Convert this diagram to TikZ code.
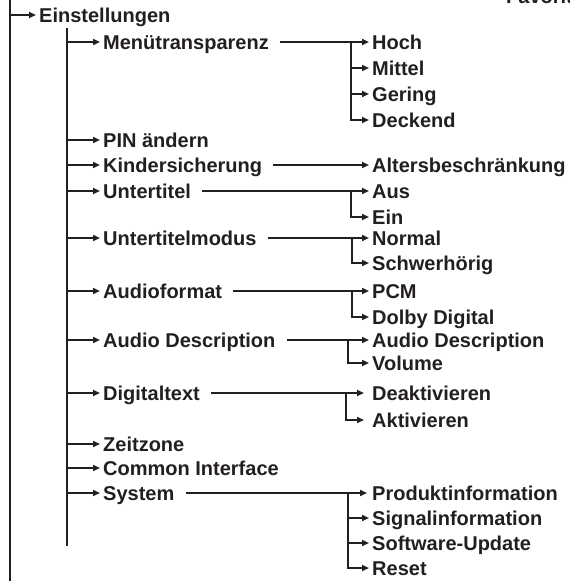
\documentclass[tikz,border=0pt]{standalone}
\usepackage{fontspec}
\setmainfont{Liberation Sans}
\usetikzlibrary{arrows.meta,calc}
\definecolor{ink}{HTML}{231F20}

\begin{document}
\begin{tikzpicture}[x=1pt, y=-1pt, >={Triangle[length=7pt,width=6pt]},
  it/.style={anchor=west, inner xsep=3pt, inner ysep=0pt, text height=14pt, text depth=0pt,
             font=\fontsize{20}{22}\selectfont\bfseries, text=ink},
  ln/.style={draw=ink, line width=1.8pt},
  e/.style={->, ln}
]
\useasboundingbox (0,0) rectangle (570,581);
% trunks
\coordinate (top) at (10,-4);
\coordinate (bot) at (10,585);
\draw[draw=ink, line width=2.3pt] (top) -- (bot);
\node[it] (fav)   at (503,-4)  {Favoriten};
\coordinate (favin) at (470,-4);
\draw[e] (favin) -- (fav);
\node[it] (einst) at (36,15)   {Einstellungen};
\draw[e] (top |- einst) -- (einst);
\coordinate (t1) at (67,28);
\coordinate (t2) at (67,546);
\draw[ln] (t1) -- (t2);
% second level
\node[it] (menu)  at (100,42)  {Menütransparenz};
\node[it] (pin)   at (100,140) {PIN ändern};
\node[it] (kind)  at (100,165) {Kindersicherung};
\node[it] (ut)    at (100,191) {Untertitel};
\node[it] (utm)   at (100,238) {Untertitelmodus};
\node[it] (afmt)  at (100,291) {Audioformat};
\node[it] (adesc) at (100,340) {Audio Description};
\node[it] (dtxt)  at (100,393) {Digitaltext};
\node[it] (zeit)  at (100,444) {Zeitzone};
\node[it] (ci)    at (100,468) {Common Interface};
\node[it] (sys)   at (100,493) {System};
\foreach \n in {menu,pin,kind,ut,utm,afmt,adesc,dtxt,zeit,ci,sys}
  \draw[e] (t1 |- \n) -- (\n);
% third level
\node[it] (hoch)  at (369,42)  {Hoch};
\node[it] (mit)   at (369,68)  {Mittel};
\node[it] (ger)   at (369,94)  {Gering};
\node[it] (deck)  at (369,120) {Deckend};
\node[it] (alt)   at (369,165) {Altersbeschränkung};
\node[it] (aus)   at (369,191) {Aus};
\node[it] (ein)   at (369,217) {Ein};
\node[it] (norm)  at (369,238) {Normal};
\node[it] (schw)  at (369,263) {Schwerhörig};
\node[it] (pcm)   at (369,291) {PCM};
\node[it] (dolby) at (369,317) {Dolby Digital};
\node[it] (ad)    at (369,340) {Audio Description};
\node[it] (vol)   at (369,363) {Volume};
\node[it] (deak)  at (369,393) {Deaktivieren};
\node[it] (akt)   at (369,420) {Aktivieren};
\node[it] (prod)  at (369,493) {Produktinformation};
\node[it] (sig)   at (369,518) {Signalinformation};
\node[it] (soft)  at (369,543) {Software-Update};
\node[it] (reset) at (369,568) {Reset};
\coordinate (menuj) at (351,42);
\coordinate (utj)   at (351,191);
\coordinate (utmj)  at (352,238);
\coordinate (afmtj) at (352,291);
\coordinate (adj)   at (348,340);
\coordinate (dtxtj) at (346,393);
\coordinate (sysj)  at (348,493);
\draw[e] ([xshift=8pt]menu.east) -- (hoch);
\draw[e] (menuj) |- (deck);
\draw[e] (menuj |- mit) -- (mit);
\draw[e] (menuj |- ger) -- (ger);
\draw[e] ([xshift=8pt]kind.east) -- (alt);
\draw[e] ([xshift=8pt]ut.east) -- (aus);
\draw[e] (utj) |- (ein);
\draw[e] ([xshift=8pt]utm.east) -- (norm);
\draw[e] (utmj) |- (schw);
\draw[e] ([xshift=8pt]afmt.east) -- (pcm);
\draw[e] (afmtj) |- (dolby);
\draw[e] ([xshift=8pt]adesc.east) -- (ad);
\draw[e] (adj) |- (vol);
\draw[e, shorten >=5pt] ([xshift=8pt]dtxt.east) -- (deak);
\draw[e, shorten >=5pt] (dtxtj) |- (akt);
\draw[e, shorten >=2pt] ([xshift=8pt]sys.east) -- (prod);
\draw[e] (sysj) |- (reset);
\draw[e] (sysj |- sig) -- (sig);
\draw[e] (sysj |- soft) -- (soft);
\end{tikzpicture}
\end{document}
